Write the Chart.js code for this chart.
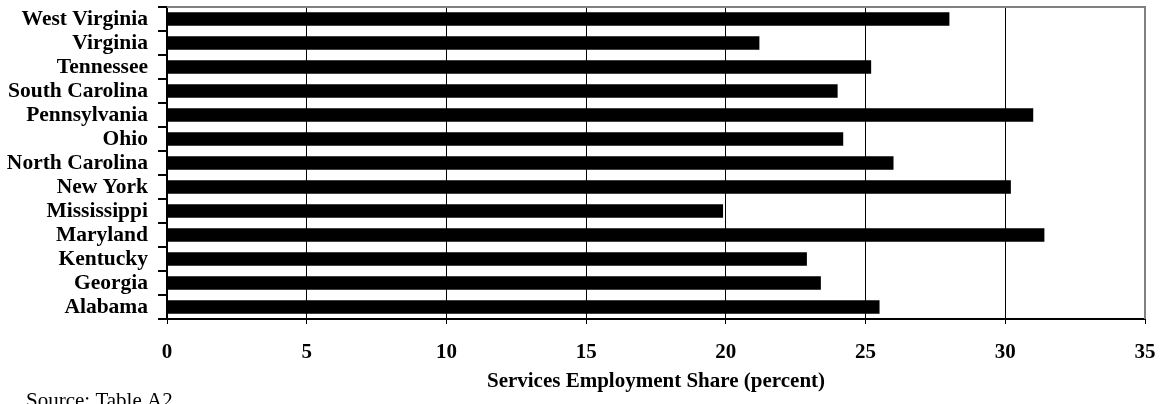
<!DOCTYPE html>
<html>
<head>
<meta charset="utf-8">
<script src="https://cdn.jsdelivr.net/npm/chart.js@4/dist/chart.umd.min.js"></script>
<style>
  html, body { margin: 0; padding: 0; background: #fff; }
  canvas { display: block; }
</style>
</head>
<body>
<canvas id="chart" width="1162" height="404"></canvas>
<script>
// states listed alphabetically, Alabama ends up at the bottom (reversed axis)
const states = ["Alabama", "Georgia", "Kentucky", "Maryland", "Mississippi", "New York",
  "North Carolina", "Ohio", "Pennsylvania", "South Carolina", "Tennessee", "Virginia", "West Virginia"];
const servicesShare = [25.5, 23.4, 22.9, 31.4, 19.9, 30.2, 26.0, 24.2, 31.0, 24.0, 25.2, 21.2, 28.0];
const xTicks = [0, 5, 10, 15, 20, 25, 30, 35];
const xTitle = "Services Employment Share (percent)";
const sourceNote = "Source: Table A2";

const serif = "'Liberation Serif', 'Times New Roman', serif";

// gray frame on the top and right of the plot, plus the source line
const frame = {
  id: "frame",
  beforeDatasetsDraw(chart) {
    const { ctx, chartArea: a } = chart;
    ctx.save();
    ctx.strokeStyle = "#808080";
    ctx.lineWidth = 2;
    ctx.beginPath();
    ctx.moveTo(a.left, a.top);
    ctx.lineTo(a.right, a.top);
    ctx.lineTo(a.right, a.bottom);
    ctx.stroke();
    ctx.restore();
  },
  afterDraw(chart) {
    const { ctx } = chart;
    ctx.save();
    ctx.fillStyle = "#000";
    ctx.font = `21px ${serif}`;
    ctx.textBaseline = "alphabetic";
    ctx.fillText(sourceNote, 26, 407);
    ctx.restore();
  },
};

new Chart(document.getElementById("chart"), {
  type: "bar",
  data: {
    labels: states,
    datasets: [{
      data: servicesShare,
      backgroundColor: "#000",
      borderWidth: 0,
      categoryPercentage: 1,
      barPercentage: 0.57,
    }],
  },
  options: {
    indexAxis: "y",
    responsive: false,
    animation: false,
    devicePixelRatio: 1,
    layout: { padding: { top: 7, right: 17, left: 0, bottom: 0 } },
    plugins: { legend: { display: false }, tooltip: { enabled: false } },
    scales: {
      x: {
        min: 0,
        max: 35,
        afterBuildTicks: (s) => { s.ticks = xTicks.map((v) => ({ value: v })); },
        afterFit: (s) => {
          s.height = 85;
          s.paddingLeft = 0;
          s.paddingRight = 0;
        },
        border: { color: "#000", width: 2 },
        grid: {
          color: (c) => (c.tick && c.tick.value === 35 ? "rgba(0,0,0,0)" : "#000"),
          tickColor: "#000",
          lineWidth: 1,
          tickLength: 5,
        },
        ticks: {
          color: "#000",
          padding: 16,
          autoSkip: false,
          maxRotation: 0,
          font: { family: serif, size: 21, weight: "bold" },
        },
        title: {
          display: true,
          text: xTitle,
          color: "#000",
          font: { family: serif, size: 21, weight: "bold" },
          padding: { top: 0, bottom: 10 },
        },
      },
      y: {
        reverse: true,
        afterFit: (s) => {
          s.width = 167;
          s.paddingTop = 0;
          s.paddingBottom = 0;
        },
        border: { color: "#000", width: 2 },
        grid: {
          offset: true,
          drawOnChartArea: false,
          color: "#000",
          lineWidth: 2,
          tickLength: 9,
        },
        ticks: {
          color: "#000",
          padding: 10,
          autoSkip: false,
          font: { family: serif, size: 21.5, weight: "bold" },
        },
      },
    },
  },
  plugins: [frame],
});
</script>
</body>
</html>
